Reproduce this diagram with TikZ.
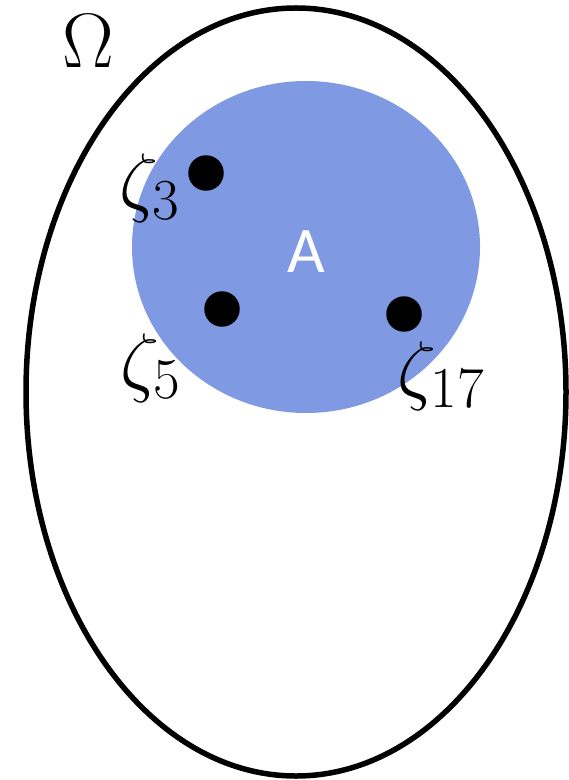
\RequirePackage{fix-cm}
\documentclass[tikz,border=0pt]{standalone}
\usepackage{fontspec}
\newfontfamily\setfont{Carlito}
\usetikzlibrary{positioning}
\definecolor{setblue}{RGB}{127,154,227}
\newcommand\outidx[1]{\mbox{\fontsize{33}{38}\selectfont #1}}

\begin{document}
\begin{tikzpicture}[
		x=0.02cm, y=-0.02cm,
		outcome/.style = {circle, fill=black, inner sep=0pt, minimum size=0.71cm},
		zlabel/.style = {inner sep=0pt, font=\fontsize{44}{50}\selectfont},
		boundary/.style = {line width=0.11cm}
		]
		
		\useasboundingbox (0,0) rectangle (568,780);
		
		% sample space and event
		\draw[boundary] (296,392) ellipse [x radius=270, y radius=384];
		\fill[setblue] (306,247) ellipse [x radius=174, y radius=166];
		
		\node[zlabel] (omega) at (88,41) {$\Omega$};
		\node[inner sep=0pt, text=white, font=\setfont\fontsize{37}{40}\selectfont] (a) at (306,252) {A};
		
		% outcomes
		\node[outcome] (z3) at (206,173) {};
		\node[outcome] (z5) at (222,309) {};
		\node[outcome] (z17) at (404,314) {};
		
		\node[zlabel] (l3) at (150,188) {$\zeta_{\outidx{3}}$};
		\node[zlabel] (l5) at (151,368) {$\zeta_{\outidx{5}}$};
		\node[zlabel] (l17) at (441,376) {$\zeta_{\outidx{17}}$};
	\end{tikzpicture}
\end{document}
